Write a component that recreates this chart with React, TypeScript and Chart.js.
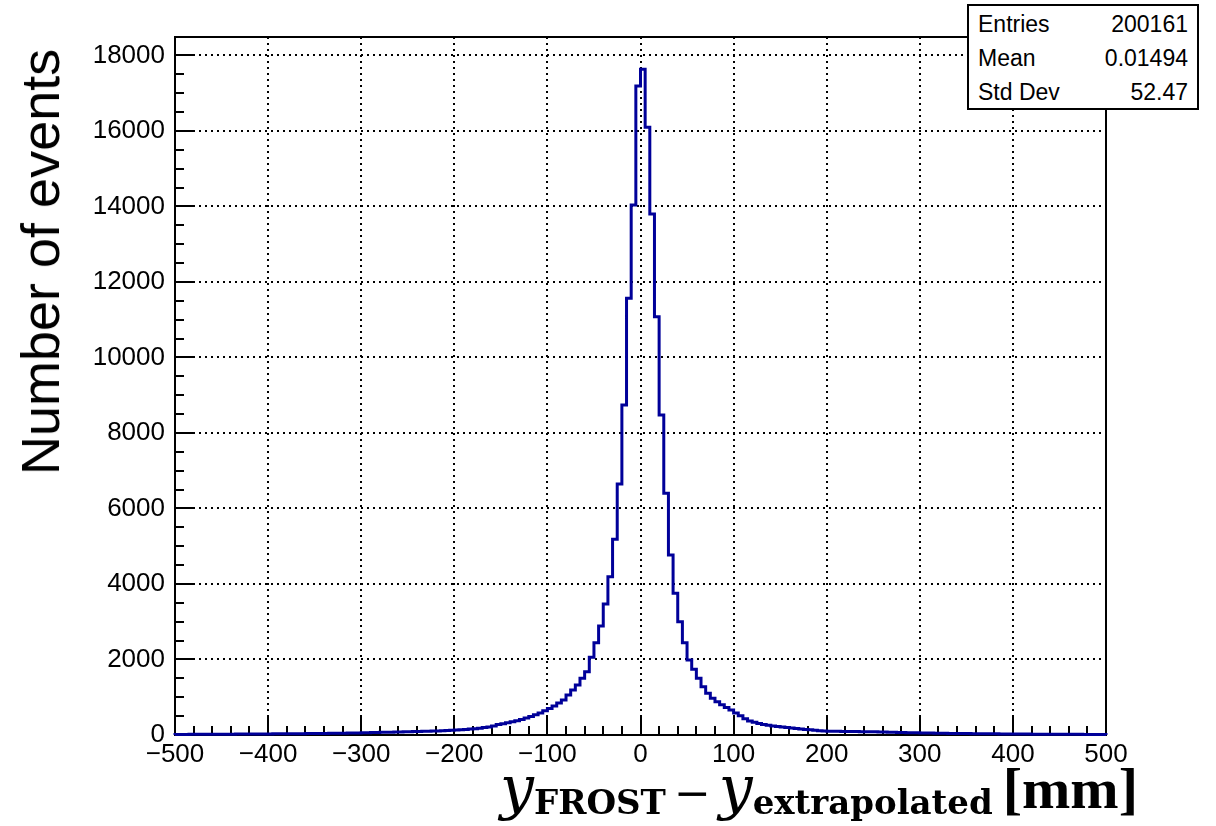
import React, { useEffect, useRef } from "react";
import { Chart, registerables } from "chart.js";

Chart.register(...registerables);

// ---- axis definition ----
const X_MIN = -500;
const X_MAX = 500;
const BIN_WIDTH = 5;
const X_MAJOR = 100;
const X_MINOR = 20;
const Y_MIN = 0;
const Y_MAX = 18490;
const Y_MAJOR = 2000;
const Y_MINOR = 500;

const X_TICKS = [-500, -400, -300, -200, -100, 0, 100, 200, 300, 400, 500];
const Y_TICKS = [0, 2000, 4000, 6000, 8000, 10000, 12000, 14000, 16000, 18000];

// ---- histogram contents (bin width 5 mm, from -500 to 500) ----
// bins -500 ... -85
const TAIL_LEFT = [
  14, 16, 15, 17, 18, 17, 19, 20, 19, 21,
  22, 21, 23, 24, 25, 24, 26, 27, 28, 27,
  29, 30, 31, 30, 33, 34, 35, 36, 38, 37,
  39, 41, 42, 44, 45, 47, 48, 50, 52, 54,
  58, 61, 64, 67, 70, 73, 76, 79, 82, 85,
  88, 91, 94, 97, 100, 104, 108, 113, 118, 124,
  130, 138, 147, 157, 168, 180, 196, 215, 240, 275,
  300, 322, 348, 378, 410, 448, 490, 535, 585, 640,
  700, 770, 850,
];
// bins -85 ... 0
const CORE_LEFT = [
  927, 1060, 1192, 1325, 1501, 1677, 2058, 2446, 2887, 3470,
  4194, 5184, 6649, 8742, 11568, 14040, 17192,
];
// bins 0 ... 85
const CORE_RIGHT = [
  17635, 16098, 13800, 11080, 8477, 6402, 4768, 3753, 3001, 2446,
  1987, 1740, 1501, 1280, 1104, 972, 880,
];
// bins 85 ... 500
const TAIL_RIGHT = [
  800, 730, 665,
  580, 510, 430, 370, 335, 305, 280, 258, 240, 225,
  210, 196, 184, 172, 160, 148, 136, 124, 114, 106,
  102, 99, 97, 95, 93, 92, 90, 89, 88, 87,
  84, 80, 77, 74, 71, 68, 65, 62, 60, 57,
  55, 53, 51, 49, 47, 45, 43, 42, 40, 39,
  37, 36, 35, 33, 32, 31, 30, 29, 28, 27,
  26, 25, 24, 24, 23, 22, 21, 21, 20, 19,
  19, 18, 18, 17, 17, 16, 16, 15, 15, 14,
];

const STATS_LABELS = ["Entries", "Mean", "Std Dev"];
const STATS_VALUES = ["200161", "0.01494", "52.47"];

const Y_TITLE = "Number of events";

const LINE_COLOR = "#000099";

function fmt(v: number): string {
  return v < 0 ? "\u2212" + Math.abs(v) : String(v);
}

const rootFrame = {
  id: "rootFrame",
  beforeDatasetsDraw(chart: any) {
    const { ctx, chartArea: a, scales } = chart;
    const x = scales.x;
    const y = scales.y;
    ctx.save();
    ctx.strokeStyle = "#000";
    ctx.lineWidth = 2;
    const nx = Math.round((X_MAX - X_MIN) / X_MINOR);
    for (let i = 0; i <= nx; i++) {
      const v = X_MIN + i * X_MINOR;
      const px = Math.round(x.getPixelForValue(v));
      const major = (v - X_MIN) % X_MAJOR === 0;
      ctx.beginPath();
      ctx.moveTo(px, a.bottom);
      ctx.lineTo(px, a.bottom - (major ? 19 : 9));
      ctx.stroke();
    }
    const ny = Math.floor((Y_MAX - Y_MIN) / Y_MINOR);
    for (let i = 0; i <= ny; i++) {
      const v = Y_MIN + i * Y_MINOR;
      const py = Math.round(y.getPixelForValue(v));
      const major = v % Y_MAJOR === 0;
      ctx.beginPath();
      ctx.moveTo(a.left, py);
      ctx.lineTo(a.left + (major ? 18 : 9), py);
      ctx.stroke();
    }
    ctx.strokeRect(a.left, a.top, a.right - a.left, a.bottom - a.top);
    ctx.restore();
  },
};

export default function App() {
  const canvasRef = useRef<HTMLCanvasElement | null>(null);

  useEffect(() => {
    const values = [...TAIL_LEFT, ...CORE_LEFT, ...CORE_RIGHT, ...TAIL_RIGHT];
    const pts: { x: number; y: number }[] = [{ x: X_MIN, y: 0 }];
    values.forEach((v, i) => pts.push({ x: X_MIN + i * BIN_WIDTH, y: v }));
    pts.push({ x: X_MAX, y: values[values.length - 1] });
    pts.push({ x: X_MAX, y: 0 });

    const tickFont = { family: '"Liberation Sans", Arial, sans-serif', size: 26 };
    const chart = new Chart(canvasRef.current as HTMLCanvasElement, {
      type: "line",
      data: {
        datasets: [
          {
            data: pts,
            borderColor: LINE_COLOR,
            borderWidth: 3,
            stepped: "before",
            pointRadius: 0,
            fill: false,
            clip: false as any,
            borderJoinStyle: "miter",
          } as any,
        ],
      },
      options: {
        animation: false,
        responsive: false,
        maintainAspectRatio: false,
        layout: { padding: { left: 0, top: 37, right: 110, bottom: 0 } },
        plugins: {
          legend: { display: false },
          tooltip: { enabled: false },
        },
        scales: {
          x: {
            type: "linear",
            min: X_MIN,
            max: X_MAX,
            afterFit: (s: any) => {
              s.height = 91;
            },
            afterBuildTicks: (s: any) => {
              s.ticks = X_TICKS.map((v) => ({ value: v }));
            },
            ticks: {
              autoSkip: false,
              maxRotation: 0,
              minRotation: 0,
              padding: 4,
              color: "#000",
              font: tickFont,
              callback: (v: any) => fmt(Number(v)),
            },
            grid: {
              drawTicks: false,
              lineWidth: 2,
              color: (c: any) =>
                c.tick && (c.tick.value === X_MIN || c.tick.value === X_MAX)
                  ? "rgba(0,0,0,0)"
                  : "#000",
            },
            border: { display: false, dash: [2, 4] },
          },
          y: {
            type: "linear",
            min: Y_MIN,
            max: Y_MAX,
            afterFit: (s: any) => {
              s.width = 175;
            },
            afterBuildTicks: (s: any) => {
              s.ticks = Y_TICKS.map((v) => ({ value: v }));
            },
            ticks: {
              autoSkip: false,
              padding: 10,
              color: "#000",
              font: tickFont,
              callback: (v: any) => fmt(Number(v)),
            },
            grid: {
              drawTicks: false,
              lineWidth: 2,
              color: (c: any) =>
                c.tick && c.tick.value === 0 ? "rgba(0,0,0,0)" : "#000",
            },
            border: { display: false, dash: [2, 4] },
          },
        },
      } as any,
      plugins: [rootFrame],
    });
    return () => chart.destroy();
  }, []);

  return (
    <div
      style={{
        position: "fixed",
        left: 0,
        top: 0,
        width: 1216,
        height: 826,
        background: "#fff",
        overflow: "hidden",
      }}
    >
      <canvas ref={canvasRef} width={1216} height={826} style={{ display: "block" }} />
      <div
        style={{
          position: "absolute",
          left: 40,
          top: 262,
          transform: "translate(-50%, -50%) rotate(-90deg)",
          fontFamily: '"Liberation Sans", Arial, sans-serif',
          fontSize: 54,
          lineHeight: "54px",
          whiteSpace: "nowrap",
          color: "#000",
        }}
      >
        {Y_TITLE}
      </div>
      <div
        style={{
          position: "absolute",
          left: 0,
          top: 752,
          width: 1138,
          textAlign: "right",
          whiteSpace: "nowrap",
          lineHeight: "70px",
          fontFamily: '"DejaVu Serif", serif',
          color: "#000",
        }}
      >
        <span style={{ fontStyle: "italic", fontSize: 60 }}>y</span>
        <span style={{ fontWeight: "bold", fontSize: 34, verticalAlign: "-6px" }}>FROST</span>
        <span style={{ fontSize: 44, margin: "0 8px" }}>{"\u2212"}</span>
        <span style={{ fontStyle: "italic", fontSize: 60 }}>y</span>
        <span style={{ fontWeight: "bold", fontSize: 34, verticalAlign: "-6px" }}>extrapolated</span>
        <span
          style={{
            fontFamily: '"Liberation Serif", serif',
            fontWeight: "bold",
            fontSize: 58,
            marginLeft: 10,
          }}
        >
          [mm]
        </span>
      </div>
      <div
        style={{
          position: "absolute",
          left: 967,
          top: 4,
          width: 232,
          height: 106,
          boxSizing: "border-box",
          border: "2px solid #000",
          background: "#fff",
          fontFamily: '"Liberation Sans", Arial, sans-serif',
          fontSize: 23,
          color: "#000",
        }}
      >
        {STATS_LABELS.map((l, i) => (
          <div
            key={l}
            style={{
              position: "absolute",
              left: 9,
              right: 9,
              top: 3 + i * 34,
              height: 30,
              lineHeight: "30px",
              display: "flex",
              justifyContent: "space-between",
              whiteSpace: "nowrap",
            }}
          >
            <span>{l}</span>
            <span>{STATS_VALUES[i]}</span>
          </div>
        ))}
      </div>
    </div>
  );
}
